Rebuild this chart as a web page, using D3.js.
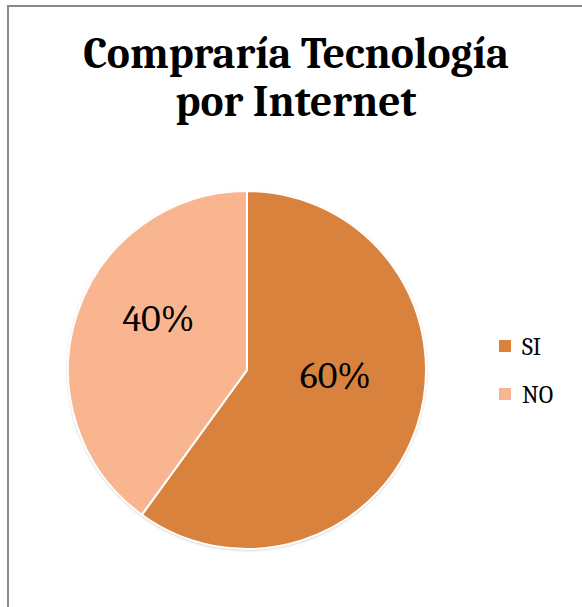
<!DOCTYPE html>
<html><head><meta charset="utf-8">
<script src="https://cdn.jsdelivr.net/npm/d3@7"></script>
<style>html,body{margin:0;padding:0;background:#fff;}</style>
</head><body>
<script>
const categories = ["SI", "NO"];
const values = [60, 40];
const labels = ["60%", "40%"];
const colors = ["#D9823E", "#F8B58F"];
const titleLines = ["Compraría Tecnología", "por Internet"];

const W = 582, H = 607;
const svg = d3.select("body").append("svg").attr("width", W).attr("height", H);
svg.append("rect").attr("x", 8).attr("y", 6).attr("width", W + 10).attr("height", H + 10)
  .attr("fill", "#fff").attr("stroke", "#898989").attr("stroke-width", 2);

const serif = "Cambria, Caladea, 'Liberation Serif', 'DejaVu Serif', serif";
svg.append("g").selectAll("text").data(titleLines).join("text")
  .attr("x", 296).attr("y", (d, i) => 68 + i * 48)
  .attr("text-anchor", "middle").attr("font-family", serif)
  .attr("font-weight", "bold").attr("font-size", 43.5).attr("fill", "#000")
  .text(d => d);

const cx = 247, cy = 370, r = 179;
const data = categories.map((c, i) => ({cat: c, value: values[i], label: labels[i], color: colors[i]}));
const pie = d3.pie().value(d => d.value).sort(null);
const arc = d3.arc().innerRadius(0).outerRadius(r);
const arcs = pie(data);
const g = svg.append("g").attr("transform", `translate(${cx},${cy})`);
const defs = svg.append("defs");
const f = defs.append("filter").attr("id", "sh").attr("x", "-20%").attr("y", "-20%").attr("width", "140%").attr("height", "140%");
f.append("feDropShadow").attr("dx", 0).attr("dy", 1).attr("stdDeviation", 1.5).attr("flood-color", "#000").attr("flood-opacity", 0.3);
g.append("circle").attr("r", r).attr("fill", "#fff").attr("filter", "url(#sh)");
g.selectAll("path").data(arcs).join("path")
  .attr("d", arc).attr("fill", d => d.data.color)
  .attr("stroke", "#fff").attr("stroke-width", 2);
const labelArc = d3.arc().innerRadius(r * 0.52).outerRadius(r * 0.52);
g.selectAll("text").data(arcs).join("text")
  .attr("transform", d => { const c = labelArc.centroid(d); return `translate(${c[0]},${c[1] - 24})`; })
  .attr("text-anchor", "middle").attr("dy", "0.35em")
  .attr("font-family", serif).attr("font-size", 38).attr("fill", "#000")
  .text(d => d.data.label);

const leg = svg.append("g").selectAll("g").data(data).join("g")
  .attr("transform", (d, i) => `translate(499,${340 + i * 48})`);
leg.append("rect").attr("width", 12).attr("height", 12).attr("fill", d => d.color);
leg.append("text").attr("x", 23).attr("y", 15).attr("font-family", serif)
  .attr("font-size", 24).attr("fill", "#000").text(d => d.cat);
</script>
</body></html>
